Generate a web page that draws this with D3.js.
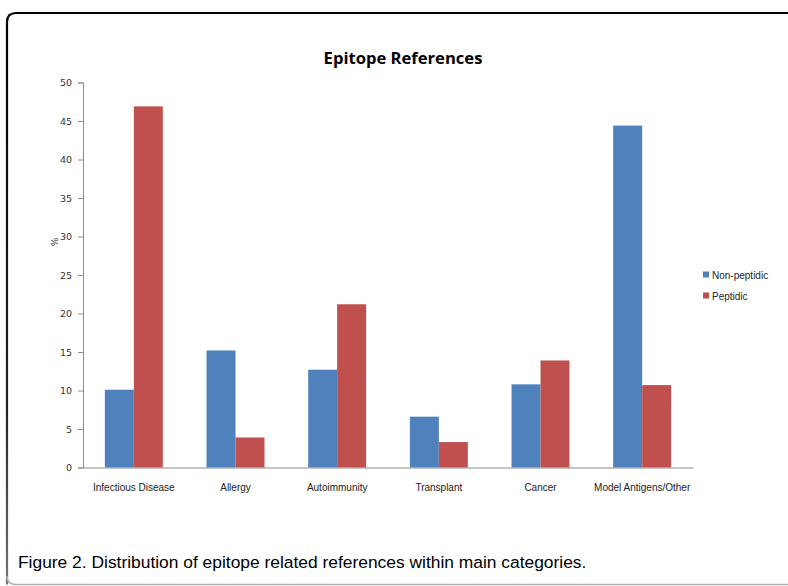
<!DOCTYPE html>
<html>
<head>
<meta charset="utf-8">
<script src="https://cdn.jsdelivr.net/npm/d3@7"></script>
<style>
  html, body { margin: 0; padding: 0; background: #fff; }
  svg { display: block; }
</style>
</head>
<body>
<svg id="chart" width="788" height="586"></svg>
<script>
// Epitope reference shares (%) per main category
const categories = ["Infectious Disease", "Allergy", "Autoimmunity", "Transplant", "Cancer", "Model Antigens/Other"];
const seriesNames = ["Non-peptidic", "Peptidic"];
const nonPeptidic = [10.1, 15.2, 12.7, 6.6, 10.8, 44.4];
const peptidic = [46.9, 3.9, 21.2, 3.3, 13.9, 10.7];
const yTicks = [0, 5, 10, 15, 20, 25, 30, 35, 40, 45, 50];
const colors = ["#4F81BD", "#C0504D"];

const svg = d3.select("#chart");

// Frame around figure and caption
const frameGrad = svg.append("defs").append("linearGradient")
  .attr("id", "leftEdge").attr("x1", 0).attr("y1", 0).attr("x2", 0).attr("y2", 1)
  .attr("gradientUnits", "userSpaceOnUse")
  .attr("x1", 0).attr("y1", 13).attr("x2", 0).attr("y2", 585);
frameGrad.append("stop").attr("offset", "0").attr("stop-color", "#000");
frameGrad.append("stop").attr("offset", "0.7").attr("stop-color", "#222");
frameGrad.append("stop").attr("offset", "1").attr("stop-color", "#777");
svg.append("path")
  .attr("d", "M7,584.5 L7,22 Q7,13 16,13")
  .attr("fill", "none").attr("stroke", "url(#leftEdge)").attr("stroke-width", 2.2);
svg.append("path")
  .attr("d", "M16,13 L790,13")
  .attr("fill", "none").attr("stroke", "#000").attr("stroke-width", 2.2);
svg.append("path")
  .attr("d", "M7,576 Q7,584.5 16,584.5 L790,584.5")
  .attr("fill", "none").attr("stroke", "#b0b0b0").attr("stroke-width", 1.6);

const plotLeft = 83, plotRight = 693, plotTop = 82.5, plotBottom = 467.5;

const x0 = d3.scaleBand().domain(categories).range([plotLeft, plotRight]).paddingInner(0.43).paddingOuter(0.215);
const x1 = d3.scaleBand().domain(seriesNames).range([0, x0.bandwidth()]);
const y = d3.scaleLinear().domain([0, 50]).range([plotBottom, plotTop]);

const rows = categories.map((c, i) => ({ cat: c, vals: [nonPeptidic[i], peptidic[i]] }));

// Bars
const g = svg.append("g");
g.selectAll("g.cat").data(rows).join("g")
  .attr("class", "cat")
  .attr("transform", d => `translate(${x0(d.cat)},0)`)
  .selectAll("rect").data(d => d.vals.map((v, k) => ({ k, v }))).join("rect")
  .attr("x", d => x1(seriesNames[d.k]))
  .attr("width", x1.bandwidth())
  .attr("y", d => y(d.v))
  .attr("height", d => y(0) - y(d.v))
  .attr("fill", d => colors[d.k]);

// Y axis
const yAxis = svg.append("g").attr("transform", `translate(${plotLeft},0)`)
  .call(d3.axisLeft(y).tickValues(yTicks).tickSize(5).tickPadding(6));
yAxis.select(".domain").attr("stroke", "#8c8c8c");
yAxis.selectAll(".tick line").attr("stroke", "#8c8c8c");
yAxis.selectAll("text").attr("font-family", "DejaVu Sans, sans-serif").attr("font-size", 9.5).attr("fill", "#333");

// X axis
const xAxis = svg.append("g").attr("transform", `translate(0,${plotBottom})`)
  .call(d3.axisBottom(x0).tickSize(0).tickPadding(16));
xAxis.select(".domain").attr("stroke", "#8c8c8c");
xAxis.selectAll("text").attr("font-family", "Liberation Sans Narrow, Liberation Sans, sans-serif").attr("font-size", 10).attr("fill", "#222");

// Y axis title
svg.append("text")
  .attr("transform", "translate(58,242) rotate(-90)")
  .attr("text-anchor", "middle")
  .attr("font-family", "DejaVu Sans, sans-serif").attr("font-size", 9).attr("fill", "#333")
  .text("%");

// Chart title
svg.append("text")
  .attr("x", 403).attr("y", 64)
  .attr("text-anchor", "middle")
  .attr("font-family", "Open Sans, sans-serif").attr("font-weight", "bold").attr("font-size", 16.6).attr("fill", "#000")
  .text("Epitope References");

// Legend
const legend = svg.append("g").attr("transform", "translate(703,275)");
seriesNames.forEach((s, i) => {
  const row = legend.append("g").attr("transform", `translate(0,${i * 21})`);
  row.append("rect").attr("x", 0).attr("y", -3.5).attr("width", 6).attr("height", 6).attr("fill", colors[i]);
  row.append("text").attr("x", 9).attr("y", 3.5)
    .attr("font-family", "Liberation Sans Narrow, Liberation Sans, sans-serif").attr("font-size", 10).attr("fill", "#222")
    .text(s);
});

// Caption
svg.append("text")
  .attr("x", 18).attr("y", 568)
  .attr("font-family", "Liberation Sans, Arial, sans-serif").attr("font-size", 17.4).attr("fill", "#000")
  .text("Figure 2. Distribution of epitope related references within main categories.");
</script>
</body>
</html>
